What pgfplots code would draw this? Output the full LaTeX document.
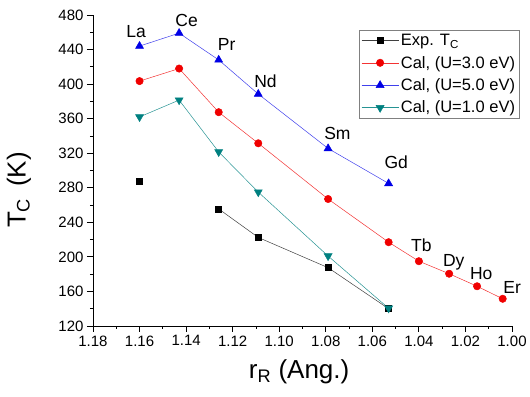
\documentclass[border=0pt]{standalone}
\usepackage{pgfplots}
\pgfplotsset{compat=1.18}
\usepackage{fontspec}
\setmainfont{Liberation Sans}
\definecolor{tealc}{RGB}{0,128,128}
\definecolor{bluec}{RGB}{0,0,230}
\definecolor{redc}{RGB}{240,0,0}
\pgfplotsset{longlegend/.style={legend image code/.code={\draw[mark repeat=2,mark phase=2,##1] plot coordinates {(0pt,0pt)(18.5pt,0pt)(37pt,0pt)};}}}
\begin{document}
\begin{tikzpicture}
\begin{axis}[
  scale only axis, width=419pt, height=311pt,
  x dir=reverse,
  xmin=1.00, xmax=1.18, ymin=120, ymax=480,
  xtick={1.00,1.02,1.04,1.06,1.08,1.10,1.12,1.14,1.16,1.18},
  ytick={120,160,200,240,280,320,360,400,440,480},
  minor x tick num=1, minor y tick num=1,
  axis x line*=bottom, axis y line*=left,
  axis line style={line width=0.8pt},
  tick align=outside,
  major tick length=6pt, minor tick length=3pt,
  every tick/.style={line width=0.8pt, black},
  /pgf/number format/assume math mode=true,
  tick label style={font=\fontsize{15}{18}\selectfont},
  x tick label style={/pgf/number format/.cd, fixed, fixed zerofill, precision=2},
  y tick label style={/pgf/number format/.cd, fixed, precision=0},
  xlabel={r\textsubscript{R} (Ang.)},
  ylabel={T\textsubscript{C}\, (K)},
  label style={font=\fontsize{26}{30}\selectfont},
  xlabel style={at={(axis description cs:0.492,-0.148)}, anchor=center},
  ylabel style={at={(axis description cs:-0.177,0.437)}, anchor=center},
  clip=false,
  unbounded coords=jump,
  legend style={at={(0.635,0.952)}, anchor=north west, draw=gray, line width=0.6pt,
    font=\fontsize{16.5}{20}\selectfont, row sep=5pt, inner sep=2pt},
  legend cell align=left,
  longlegend,
]
\addplot[black!75, line width=0.5pt, mark=square*, mark size=3pt, mark options={black, solid}, longlegend]
  coordinates {(1.160,288) (1.143,nan) (1.126,255.5) (1.109,222.5) (1.079,187.5) (1.053,140)};
\addlegendentry{Exp. T\textsubscript{C}}
\addplot[redc!80, line width=0.5pt, mark=*, mark size=3.7pt, mark options={redc, fill=redc, solid}, longlegend]
  coordinates {(1.160,403.5) (1.143,418) (1.126,367.5) (1.109,331.5) (1.079,267) (1.053,217) (1.040,195) (1.027,180.5) (1.015,166) (1.004,151.5)};
\addlegendentry{Cal, (U=3.0 eV)}
\addplot[bluec!75, line width=0.5pt, mark=triangle*, mark size=4.6pt, mark options={bluec, fill=bluec, solid}, longlegend]
  coordinates {(1.160,444) (1.143,459) (1.126,428) (1.109,388.5) (1.079,325.5) (1.053,285)};
\addlegendentry{Cal, (U=5.0 eV)}
\addplot[tealc!85, line width=0.5pt, mark=triangle*, mark size=4.6pt, mark options={tealc, fill=tealc, solid, rotate=180}, longlegend]
  coordinates {(1.160,362) (1.143,381.5) (1.126,321.5) (1.109,275) (1.079,201) (1.053,140.5)};
\addlegendentry{Cal, (U=1.0 eV)}
\begin{scope}[every node/.style={font=\fontsize{17.5}{20}\selectfont, inner sep=0pt}]
\node at (axis cs:1.1615,460.7) {La};
\node at (axis cs:1.1398,474.2) {Ce};
\node at (axis cs:1.1226,445.3) {Pr};
\node at (axis cs:1.1059,402.8) {Nd};
\node at (axis cs:1.0750,343) {Sm};
\node at (axis cs:1.0497,309) {Gd};
\node at (axis cs:1.0389,213.8) {Tb};
\node at (axis cs:1.0250,193.3) {Dy};
\node at (axis cs:1.0132,180.2) {Ho};
\node at (axis cs:0.9999,164.8) {Er};
\end{scope}
\end{axis}
\path ([shift={(-93pt,-71pt)}]current axis.south west) rectangle ([shift={(18pt,15pt)}]current axis.north east);
\end{tikzpicture}
\end{document}
